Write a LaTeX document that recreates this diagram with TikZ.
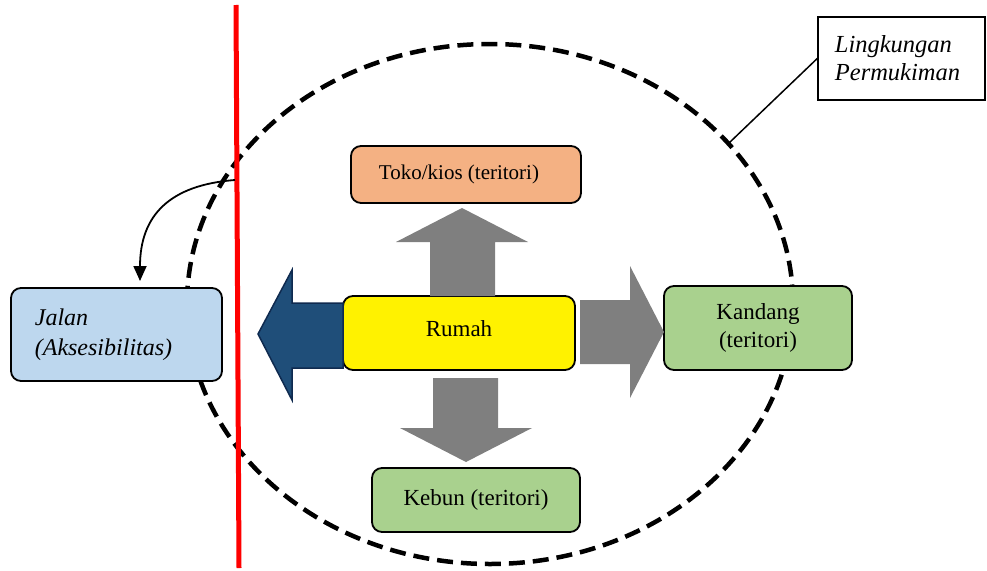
\documentclass[tikz,border=0pt]{standalone}
\usepackage{fontspec}
\setmainfont{Liberation Serif}
\usetikzlibrary{arrows.meta}
\definecolor{tokoc}{HTML}{F4B183}
\definecolor{greenc}{HTML}{A9D18E}
\definecolor{jalanc}{HTML}{BDD7EE}
\definecolor{arrgray}{HTML}{7F7F7F}
\definecolor{arrblue}{HTML}{1F4E79}
\definecolor{arrblueb}{HTML}{0F2A4F}
\begin{document}
\begin{tikzpicture}[x=1pt,y=-1pt,
  box/.style={draw=black,line width=1.8pt,rounded corners=10pt,inner sep=0pt,font=\fontsize{23}{28}\selectfont},
  garrow/.style={fill=arrgray,draw=none}]
\useasboundingbox (0,0) rectangle (987,570);
% ellipse
\draw[line width=4.5pt,dash pattern=on 16pt off 8pt] (490,304) ellipse [x radius=303, y radius=260];
% red line
\draw[red,line width=5pt] (236,5) coordinate (r1) -- (239,568) coordinate (r2);
% boxes
\node[box,fill=tokoc,minimum width=230pt,minimum height=57pt,font=\fontsize{21}{25}\selectfont] (toko) at (466,174.5) {\hspace*{-14pt}Toko/kios (teritori)};
\node[box,fill=yellow,minimum width=232pt,minimum height=74pt] (rumah) at (459,333) {\raisebox{8pt}{Rumah}};
\node[box,fill=greenc,minimum width=188pt,minimum height=84pt,align=center] (kandang) at (758,328) {Kandang\\(teritori)};
\node[box,fill=greenc,minimum width=208pt,minimum height=64pt] (kebun) at (476,500) {Kebun (teritori)};
\node[box,fill=jalanc,minimum width=211pt,minimum height=93pt,align=left,font=\fontsize{24}{30}\selectfont\itshape] (jalan) at (116.5,334.5) {\hspace*{-26pt}Jalan\\\hspace*{-26pt}(Aksesibilitas)};
\node[draw=black,line width=1.5pt,minimum width=167pt,minimum height=83pt,align=left,inner sep=0pt,font=\fontsize{24.5}{28}\selectfont\itshape] (ling) at (901.5,58.5) {\hspace*{-8pt}Lingkungan\\\hspace*{-8pt}Permukiman};
\coordinate (lend) at (729,143);
\draw[line width=1.5pt] (ling.west) -- (lend);
% arrows
\fill[garrow] (430,296) -- (430,242) -- (396,242) -- (462,208) -- (528,242) -- (495,242) -- (495,296) -- cycle;
\fill[garrow] (433,378) -- (433,428) -- (400,428) -- (466,462) -- (532,428) -- (498,428) -- (498,378) -- cycle;
\fill[garrow] (580,300) -- (630,300) -- (630,266) -- (664,332) -- (630,398) -- (630,364) -- (580,364) -- cycle;
\draw[fill=arrblue,draw=arrblueb,line width=1.5pt,line join=miter] (343,303) -- (292,303) -- (292,270) -- (258,334) -- (292,400) -- (292,368) -- (343,368) -- cycle;
% curved arrow
\coordinate (cs) at (235,180);
\coordinate (ce) at (140,281);
\draw[line width=1.8pt,-{Triangle[length=15pt,width=13pt]}] (cs) .. controls (170,185) and (140,215) .. (ce);
\end{tikzpicture}
\end{document}
